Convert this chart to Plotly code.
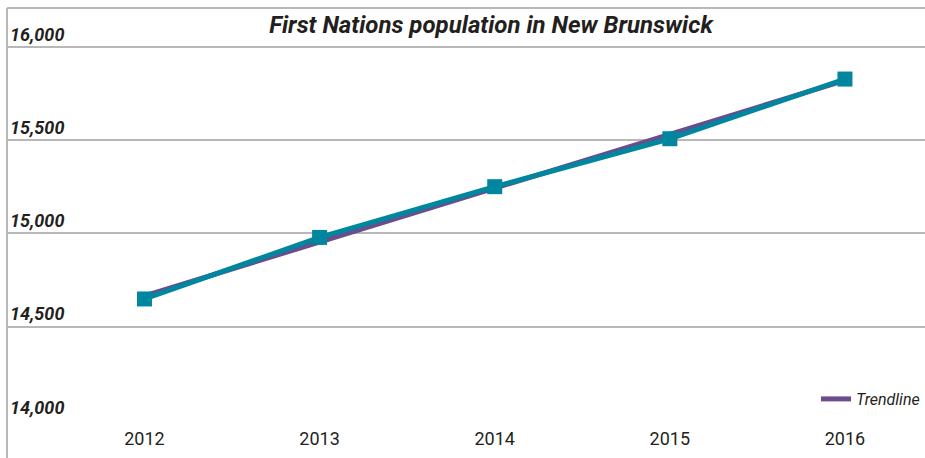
import numpy as np
import plotly.graph_objects as go

years = ["2012", "2013", "2014", "2015", "2016"]
population = [14649, 14979, 15251, 15508, 15828]
y_ticks = [14000, 14500, 15000, 15500, 16000]
y_tick_labels = ["14,000", "14,500", "15,000", "15,500", "16,000"]
title_text = "First Nations population in New Brunswick"
trend_name = "Trendline"

# linear trendline fitted to the data (as the original chart's trendline)
idx = np.arange(len(years))
slope, intercept = np.polyfit(idx, population, 1)
trend = list(slope * idx + intercept)

FONT = "Roboto, Lato, sans-serif"
TEAL = "#00869E"
PURPLE = "#6B4C8C"
GRID = "#B8B8B8"
TXT = "#231F20"

fig = go.Figure()
fig.add_trace(go.Scatter(
    x=years, y=trend, mode="lines", name=trend_name,
    line=dict(color=PURPLE, width=5), showlegend=True, hoverinfo="skip"))
fig.add_trace(go.Scatter(
    x=years, y=population, mode="lines+markers", name="Population",
    line=dict(color=TEAL, width=5),
    marker=dict(symbol="square", size=15, color=TEAL), showlegend=False))

fig.update_layout(
    width=925, height=458,
    margin=dict(l=7, r=0, t=8, b=38),
    paper_bgcolor="white", plot_bgcolor="white",
    font=dict(family=FONT, color=TXT),
    title=dict(text=title_text, x=491 / 925, xanchor="center", y=1 - 25 / 458, yanchor="middle",
               font=dict(family=FONT, size=24, color=TXT, weight="bold", style="italic")),
    xaxis=dict(type="category", range=[-0.785, 4.457], showgrid=False, zeroline=False,
               showline=False, ticks="", ticklabelstandoff=6, tickfont=dict(size=18, color=TXT)),
    yaxis=dict(range=[14000, 16209], tickvals=y_ticks, ticktext=y_tick_labels,
               ticklabelposition="inside top", showgrid=True, gridcolor=GRID, gridwidth=2,
               zeroline=False, showline=False, ticks="",
               tickfont=dict(size=18, color=TXT, style="italic", weight="bold")),
    legend=dict(x=1, xanchor="right", y=(420 - 399) / 412, yanchor="middle",
                bgcolor="rgba(0,0,0,0)", font=dict(size=16, color=TXT, style="italic")),
    shapes=[
        dict(type="line", xref="paper", yref="paper", x0=0, x1=1, y0=1, y1=1,
             line=dict(color=GRID, width=2)),
        dict(type="line", xref="paper", yref="paper", x0=0, x1=0, y0=-0.1, y1=1,
             line=dict(color=GRID, width=2)),
    ],
)

fig.write_html("out.html", config={"displayModeBar": False},
               post_script="document.body.style.margin='0px';")
